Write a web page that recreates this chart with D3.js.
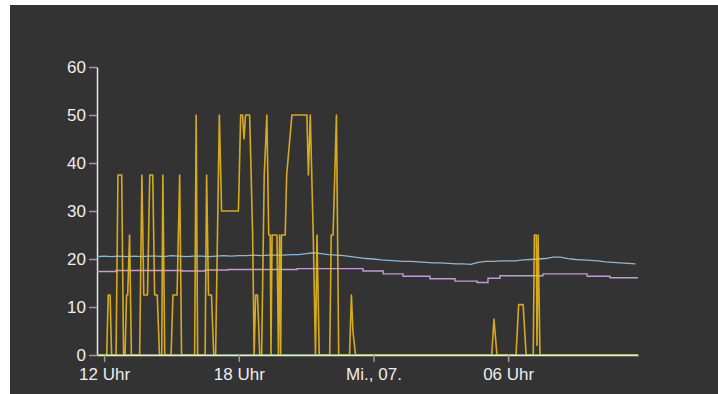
<!DOCTYPE html>
<html>
<head>
<meta charset="utf-8">
<script src="https://cdn.jsdelivr.net/npm/d3@7"></script>
<style>
  html, body { margin: 0; padding: 0; background: #ffffff; }
  svg { display: block; }
  .axis text { font-family: "Liberation Sans", Arial, sans-serif; font-size: 17px; fill: #eeeeee; }
</style>
</head>
<body>
<svg id="chart" width="718" height="394"></svg>
<script>
// Tick values of the value axis
const yTicks = [0, 10, 20, 30, 40, 50, 60];

// Wind gusts, [day hh:mm, value]
const gust = [
  ["06 11:41", 0], ["06 12:07", 0], ["06 12:11", 12.5], ["06 12:16", 12.5], ["06 12:20", 0],
  ["06 12:32", 0], ["06 12:37", 37.5], ["06 12:47", 37.5], ["06 12:52", 0], ["06 12:56", 0],
  ["06 13:00", 12.5], ["06 13:03", 12.5], ["06 13:08", 25], ["06 13:13", 0], ["06 13:35", 0],
  ["06 13:41", 37.5], ["06 13:46", 12.5], ["06 13:56", 12.5], ["06 14:02", 37.5], ["06 14:10", 37.5],
  ["06 14:15", 12.5], ["06 14:22", 12.5], ["06 14:28", 0], ["06 14:34", 0], ["06 14:37", 37.5],
  ["06 14:42", 0], ["06 14:59", 0], ["06 15:04", 12.5], ["06 15:15", 12.5], ["06 15:22", 37.5],
  ["06 15:27", 0], ["06 16:02", 0], ["06 16:06", 50], ["06 16:10", 0], ["06 16:30", 0],
  ["06 16:34", 37.5], ["06 16:39", 12.5], ["06 16:47", 12.5], ["06 16:53", 0], ["06 16:58", 0],
  ["06 17:08", 50], ["06 17:14", 30], ["06 17:59", 30], ["06 18:05", 50], ["06 18:10", 50],
  ["06 18:14", 45], ["06 18:18", 50], ["06 18:29", 50], ["06 18:37", 25], ["06 18:41", 0],
  ["06 18:45", 12.5], ["06 18:50", 12.5], ["06 18:56", 0], ["06 19:01", 0], ["06 19:08", 37.5],
  ["06 19:15", 50], ["06 19:20", 25], ["06 19:24", 25], ["06 19:26", 0], ["06 19:29", 25],
  ["06 19:42", 25], ["06 19:46", 0], ["06 19:49", 25], ["06 19:52", 0], ["06 19:54", 25],
  ["06 20:04", 25], ["06 20:08", 37.5], ["06 20:22", 50], ["06 21:02", 50], ["06 21:06", 37.5],
  ["06 21:11", 50], ["06 21:19", 25], ["06 21:25", 0], ["06 21:29", 25], ["06 21:35", 0],
  ["06 22:03", 0], ["06 22:07", 25], ["06 22:12", 25], ["06 22:21", 50], ["06 22:27", 0],
  ["06 22:56", 0], ["06 23:01", 12.5], ["06 23:05", 5], ["06 23:12", 0], ["07 05:16", 0],
  ["07 05:22", 7.5], ["07 05:30", 0], ["07 06:21", 0], ["07 06:28", 10.5], ["07 06:40", 10.5],
  ["07 06:48", 0], ["07 07:07", 0], ["07 07:10", 25], ["07 07:15", 25], ["07 07:17", 2],
  ["07 07:20", 25], ["07 07:25", 0], ["07 11:47", 0]
];

// Indoor temperature, one reading every 20 minutes from 06 11:40
const tempStart = "06 11:40";
const tempStepMinutes = 20;
const temp = [
  20.5, 20.6, 20.5, 20.6, 20.5, 20.6, 20.5, 20.6, 20.6, 20.5,
  20.7, 20.6, 20.5, 20.6, 20.6, 20.5, 20.6, 20.7, 20.6, 20.7,
  20.7, 20.8, 20.7, 20.8, 20.8, 20.8, 20.9, 20.9, 21.1, 21.3,
  21.1, 20.9, 20.8, 20.7, 20.5, 20.3, 20.1, 20.0, 19.8, 19.7,
  19.6, 19.5, 19.5, 19.4, 19.3, 19.2, 19.2, 19.1, 19.0, 19.0,
  18.9, 19.3, 19.5, 19.5, 19.6, 19.6, 19.6, 19.8, 19.9, 20.0,
  20.1, 20.4, 20.4, 20.1, 19.9, 19.8, 19.7, 19.6, 19.4, 19.3,
  19.2, 19.1, 19.0
];

// Outdoor temperature, stepwise readings [day hh:mm, value]
const outdoor = [
  ["06 11:41", 17.4], ["06 12:32", 17.6], ["06 15:28", 17.5], ["06 16:30", 17.7],
  ["06 17:31", 17.8], ["06 20:36", 18.0], ["06 23:32", 17.5], ["07 00:26", 16.9],
  ["07 01:19", 16.4], ["07 02:31", 15.9], ["07 03:38", 15.4], ["07 04:37", 15.1],
  ["07 05:06", 16.0], ["07 05:38", 16.5], ["07 07:33", 16.9], ["07 09:31", 16.4],
  ["07 10:32", 16.1], ["07 11:47", 16.1]
];

// Rain, flat at zero
const rain = [["06 11:41", 0], ["07 11:47", 0]];

const timeRange = ["06 11:41", "07 11:47"];

const parseRaw = d3.timeParse("%Y-%m-%d %H:%M");
const parse = s => parseRaw("2020-10-" + s);

const de = d3.timeFormatLocale({
  dateTime: "%A, der %e. %B %Y, %X",
  date: "%d.%m.%Y",
  time: "%H:%M:%S",
  periods: ["AM", "PM"],
  days: ["Sonntag", "Montag", "Dienstag", "Mittwoch", "Donnerstag", "Freitag", "Samstag"],
  shortDays: ["So", "Mo", "Di", "Mi", "Do", "Fr", "Sa"],
  months: ["Januar", "Februar", "März", "April", "Mai", "Juni", "Juli", "August", "September", "Oktober", "November", "Dezember"],
  shortMonths: ["Jan", "Feb", "Mär", "Apr", "Mai", "Jun", "Jul", "Aug", "Sep", "Okt", "Nov", "Dez"]
});
const fmtDay = de.format("%a., %d.");
const fmtHour = de.format("%H Uhr");
const tickFormat = d => (d3.timeDay(d) < d ? fmtHour(d) : fmtDay(d));

const svg = d3.select("#chart");

// dark panel
svg.append("rect")
  .attr("x", 10).attr("y", 5)
  .attr("width", 708).attr("height", 389)
  .attr("fill", "#333333");

const margin = { left: 97, right: 638, top: 67, bottom: 355 };

const x = d3.scaleTime()
  .domain(timeRange.map(parse))
  .range([margin.left, margin.right]);

const y = d3.scaleLinear()
  .domain([0, 60])
  .range([margin.bottom, margin.top]);

svg.append("clipPath").attr("id", "plot")
  .append("rect")
  .attr("x", margin.left).attr("y", margin.top - 5)
  .attr("width", margin.right - margin.left).attr("height", margin.bottom - margin.top + 5);

// axes
const yAxis = svg.append("g")
  .attr("class", "axis")
  .attr("transform", `translate(${margin.left},0)`)
  .call(d3.axisLeft(y).tickValues(yTicks).tickSize(8).tickPadding(3).tickSizeOuter(0));
yAxis.select(".domain").attr("stroke", "#e6e6e6").attr("stroke-width", 1.5);
yAxis.selectAll(".tick line").attr("stroke", "#9a9a9a").attr("stroke-width", 1.5);

const xAxis = svg.append("g")
  .attr("class", "axis")
  .attr("transform", `translate(0,${margin.bottom})`)
  .call(d3.axisBottom(x).ticks(d3.timeHour.every(6)).tickFormat(tickFormat).tickSize(7).tickPadding(6).tickSizeOuter(0));
xAxis.select(".domain").attr("stroke", "#e6e6e6").attr("stroke-width", 1.5);
xAxis.selectAll(".tick line").attr("stroke", "#9a9a9a").attr("stroke-width", 1.5);

const plot = svg.append("g").attr("clip-path", "url(#plot)");

const pairs = arr => arr.map(([t, v]) => ({ t: parse(t), v }));
const tempData = temp.map((v, i) => ({ t: d3.timeMinute.offset(parse(tempStart), i * tempStepMinutes), v }));

const line = d3.line().x(d => x(d.t)).y(d => y(d.v));
const stepLine = d3.line().x(d => x(d.t)).y(d => y(d.v)).curve(d3.curveStepAfter);

plot.append("path")
  .datum(tempData)
  .attr("fill", "none")
  .attr("stroke", "#8db7d8")
  .attr("stroke-width", 1.3)
  .attr("d", line);

plot.append("path")
  .datum(pairs(outdoor))
  .attr("fill", "none")
  .attr("stroke", "#c49ad6")
  .attr("stroke-width", 1.4)
  .attr("d", stepLine);

plot.append("path")
  .datum(pairs(gust))
  .attr("fill", "none")
  .attr("stroke", "#f3bf1c")
  .attr("stroke-opacity", 0.85)
  .attr("stroke-width", 1.6)
  .attr("stroke-linejoin", "round")
  .attr("d", line);

plot.append("path")
  .datum(pairs(rain))
  .attr("fill", "none")
  .attr("stroke", "#a9d39a")
  .attr("stroke-opacity", 0.8)
  .attr("stroke-width", 1.4)
  .attr("d", line);
</script>
</body>
</html>
